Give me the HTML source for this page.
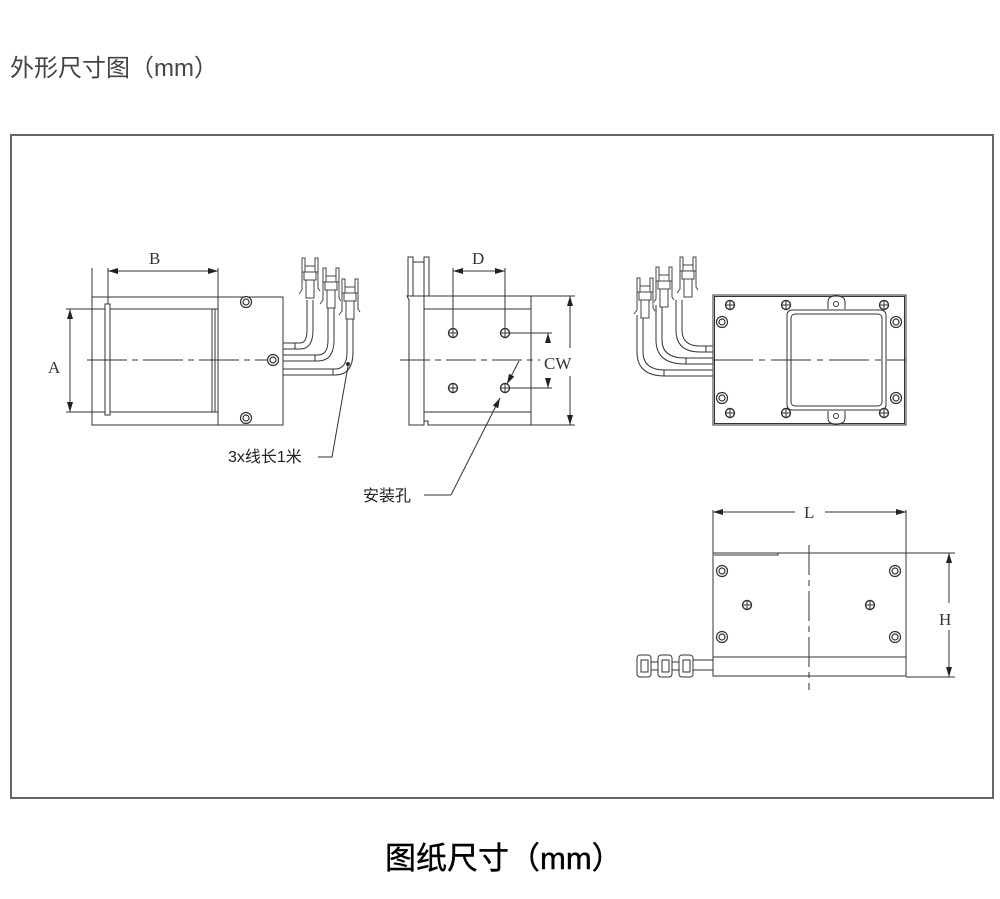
<!DOCTYPE html>
<html><head><meta charset="utf-8"><style>
html,body{margin:0;padding:0;background:#fff;width:1000px;height:899px;overflow:hidden}
svg{display:block}
</style></head><body>
<svg width="1000" height="899" viewBox="0 0 1000 899" xmlns="http://www.w3.org/2000/svg" font-family="'Liberation Serif','Noto Serif CJK SC',serif">
<defs>
<marker id="ar" viewBox="0 0 10 6" refX="10" refY="3" markerWidth="10" markerHeight="6" orient="auto-start-reverse" markerUnits="userSpaceOnUse"><path d="M0,0 L10,3 L0,6 Z" fill="#222"/></marker>
<g id="dc"><circle r="5.5" fill="#fff" stroke="#333" stroke-width="1.2"/><circle r="3" fill="none" stroke="#333" stroke-width="1.2"/></g>
<g id="xc"><circle r="4.5" fill="#fff" stroke="#333" stroke-width="1.4"/><line x1="-4.5" y1="0" x2="4.5" y2="0" stroke="#333"/><line x1="0" y1="-4.5" x2="0" y2="4.5" stroke="#333"/></g>
<g id="cn" fill="#fff" stroke="#444" stroke-width="1">
<rect x="0" y="0" width="3" height="14"/><rect x="13" y="0" width="3" height="14"/>
<rect x="3" y="8" width="10" height="6"/>
<rect x="2" y="14" width="12" height="8"/>
<rect x="4" y="22" width="8" height="18"/>
<path d="M0,14 L0,32 L-3,36 M16,14 L16,30 L18,33"/>
</g>
</defs>
<text x="10" y="76" font-family="'Liberation Sans','Noto Sans CJK SC',sans-serif" font-size="24" fill="#444">外形尺寸图（mm）</text>
<rect x="11" y="135" width="982" height="663" fill="none" stroke="#666" stroke-width="2"/>
<text x="385" y="869" font-family="'Liberation Sans','Noto Sans CJK SC',sans-serif" font-size="31" fill="#000" stroke="#000" stroke-width="0.4">图纸尺寸（mm）</text>

<g stroke="#333" stroke-width="1" fill="none">
<rect x="92" y="297" width="191" height="128"/>
<line x1="218" y1="297" x2="218" y2="425"/>
<line x1="92" y1="309" x2="218" y2="309"/><line x1="92" y1="412" x2="218" y2="412"/>
<rect x="105" y="304" width="5" height="111" fill="#fff"/>
<line x1="212" y1="309" x2="212" y2="412"/><line x1="215" y1="309" x2="215" y2="412"/>
<line x1="92" y1="268" x2="92" y2="297"/><line x1="108" y1="268" x2="108" y2="304"/><line x1="218" y1="268" x2="218" y2="297"/>
<line x1="108" y1="271" x2="218" y2="271" marker-start="url(#ar)" marker-end="url(#ar)"/>
<line x1="66" y1="309" x2="105" y2="309"/><line x1="66" y1="412" x2="105" y2="412"/>
<line x1="70" y1="309" x2="70" y2="412" marker-start="url(#ar)" marker-end="url(#ar)"/>
<line x1="87" y1="360" x2="270" y2="360" stroke-dasharray="40,5,6,5"/>
<use href="#dc" x="246" y="302"/><use href="#dc" x="246" y="418"/><use href="#dc" x="273" y="360"/>
<path d="M283,343 H300 Q307,343 307,330 V300 M283,349 H300 Q313,349 313,330 V300"/>
<path d="M283,355 H318 Q328,355 328,340 V305 M283,361 H318 Q334,361 334,340 V305"/>
<path d="M283,369 H335 Q347,369 347,352 V315 M283,375 H335 Q353,375 353,352 V315"/>
<line x1="295" y1="343" x2="295" y2="349"/><line x1="315" y1="355" x2="315" y2="361"/><line x1="333" y1="369" x2="333" y2="375"/>
<use href="#cn" x="302" y="258"/><use href="#cn" x="323" y="268"/><use href="#cn" x="342" y="279"/>
<circle cx="348" cy="364" r="1.5" fill="#222"/>
<path d="M348,366 L332,457 H318"/>

<path d="M407,296 H531 V425 H428 V421 H424 V425 H409 V300 Z"/>
<line x1="424" y1="296" x2="424" y2="421"/>
<line x1="424" y1="309" x2="531" y2="309"/><line x1="424" y1="412" x2="531" y2="412"/>
<line x1="531" y1="296" x2="575" y2="296"/><line x1="531" y1="425" x2="575" y2="425"/>
<line x1="570" y1="296" x2="570" y2="348" marker-start="url(#ar)"/><line x1="570" y1="376" x2="570" y2="425" marker-end="url(#ar)"/>
<rect x="408" y="257" width="5" height="39"/><rect x="424" y="257" width="5" height="39"/><rect x="413" y="262" width="11" height="34"/>
<line x1="400" y1="360" x2="540" y2="360" stroke-dasharray="30,5,6,5"/>
<line x1="453" y1="268" x2="453" y2="328"/><line x1="505" y1="268" x2="505" y2="328"/>
<line x1="453" y1="271" x2="505" y2="271" marker-start="url(#ar)" marker-end="url(#ar)"/>
<line x1="510" y1="333" x2="552" y2="333"/><line x1="510" y1="388" x2="552" y2="388"/>
<line x1="548" y1="343" x2="548" y2="333" marker-end="url(#ar)"/><line x1="548" y1="378" x2="548" y2="388" marker-end="url(#ar)"/>
<use href="#xc" x="453" y="333"/><use href="#xc" x="505" y="333"/><use href="#xc" x="453" y="388"/><use href="#xc" x="505" y="388"/>
<line x1="519" y1="361" x2="507" y2="384" marker-end="url(#ar)"/>
<path d="M451,495 L500,398" marker-end="url(#ar)"/>
<line x1="451" y1="495" x2="424" y2="495"/>

<rect x="713" y="295" width="193" height="130"/>
<rect x="714.5" y="296.5" width="190" height="127"/>
<rect x="787" y="310" width="99" height="100" rx="5"/>
<rect x="791" y="314" width="91" height="92" rx="4"/>
<path d="M828,309 V302 Q828,296 836,296 Q845,296 845,302 V309" fill="#fff"/>
<path d="M828,411 V418 Q828,424 836,424 Q845,424 845,418 V411" fill="#fff"/>
<circle cx="836" cy="304" r="2.5"/><circle cx="836" cy="416" r="2.5"/>
<line x1="713" y1="360" x2="906" y2="360" stroke-dasharray="40,6,6,6"/>
<use href="#xc" x="730" y="305"/><use href="#xc" x="786" y="305"/><use href="#xc" x="884" y="305"/>
<use href="#xc" x="730" y="413"/><use href="#xc" x="786" y="413"/><use href="#xc" x="884" y="413"/>
<use href="#dc" x="722" y="322"/><use href="#dc" x="896" y="322"/><use href="#dc" x="722" y="398"/><use href="#dc" x="896" y="398"/>
<path d="M713,346 H700 Q682,346 682,330 V300 M713,352 H700 Q676,352 676,330 V300"/>
<path d="M713,358 H685 Q662,358 662,340 V305 M713,364 H685 Q656,364 656,340 V305"/>
<path d="M713,370 H665 Q643,370 643,352 V315 M713,376 H665 Q637,376 637,352 V315"/>
<line x1="706" y1="346" x2="706" y2="352"/><line x1="686" y1="358" x2="686" y2="364"/><line x1="664" y1="370" x2="664" y2="376"/>
<use href="#cn" x="680" y="257"/><use href="#cn" x="656" y="267"/><use href="#cn" x="637" y="278"/>

<rect x="713" y="553" width="193" height="123"/>
<line x1="713" y1="657" x2="906" y2="657"/>
<path d="M714,555 H778 V553"/>
<line x1="713" y1="510" x2="713" y2="553"/><line x1="906" y1="510" x2="906" y2="553"/>
<line x1="713" y1="512" x2="795" y2="512" marker-start="url(#ar)"/><line x1="825" y1="512" x2="906" y2="512" marker-end="url(#ar)"/>
<line x1="906" y1="553" x2="955" y2="553"/><line x1="906" y1="677" x2="955" y2="677"/>
<line x1="949" y1="553" x2="949" y2="603" marker-start="url(#ar)"/><line x1="949" y1="630" x2="949" y2="677" marker-end="url(#ar)"/>
<line x1="809" y1="545" x2="809" y2="690" stroke-dasharray="30,5,6,5"/>
<use href="#dc" x="722" y="571"/><use href="#dc" x="895" y="571"/><use href="#dc" x="722" y="637"/><use href="#dc" x="895" y="637"/>
<use href="#xc" x="747" y="605"/><use href="#xc" x="870" y="605"/>
<rect x="693" y="660" width="20" height="10"/>
<rect x="637" y="655" width="14" height="22" rx="3"/><rect x="641" y="660" width="7" height="12"/>
<rect x="658" y="655" width="14" height="22" rx="3"/><rect x="662" y="660" width="7" height="12"/>
<rect x="679" y="655" width="14" height="22" rx="3"/><rect x="683" y="660" width="7" height="12"/>
<rect x="651" y="662" width="7" height="8"/><rect x="672" y="662" width="7" height="8"/>
</g>

<g font-size="17" fill="#333">
<text x="149" y="264">B</text>
<text x="48" y="373">A</text>
<text x="472" y="264">D</text>
<text x="544" y="369">CW</text>
<text x="804" y="518">L</text>
<text x="939" y="625">H</text>
</g>
<g font-family="'Liberation Sans','Noto Sans CJK SC',sans-serif" font-size="16" fill="#222">
<text x="228" y="462">3x线长1米</text>
<text x="363" y="501">安装孔</text>
</g>
</svg>
</body></html>
